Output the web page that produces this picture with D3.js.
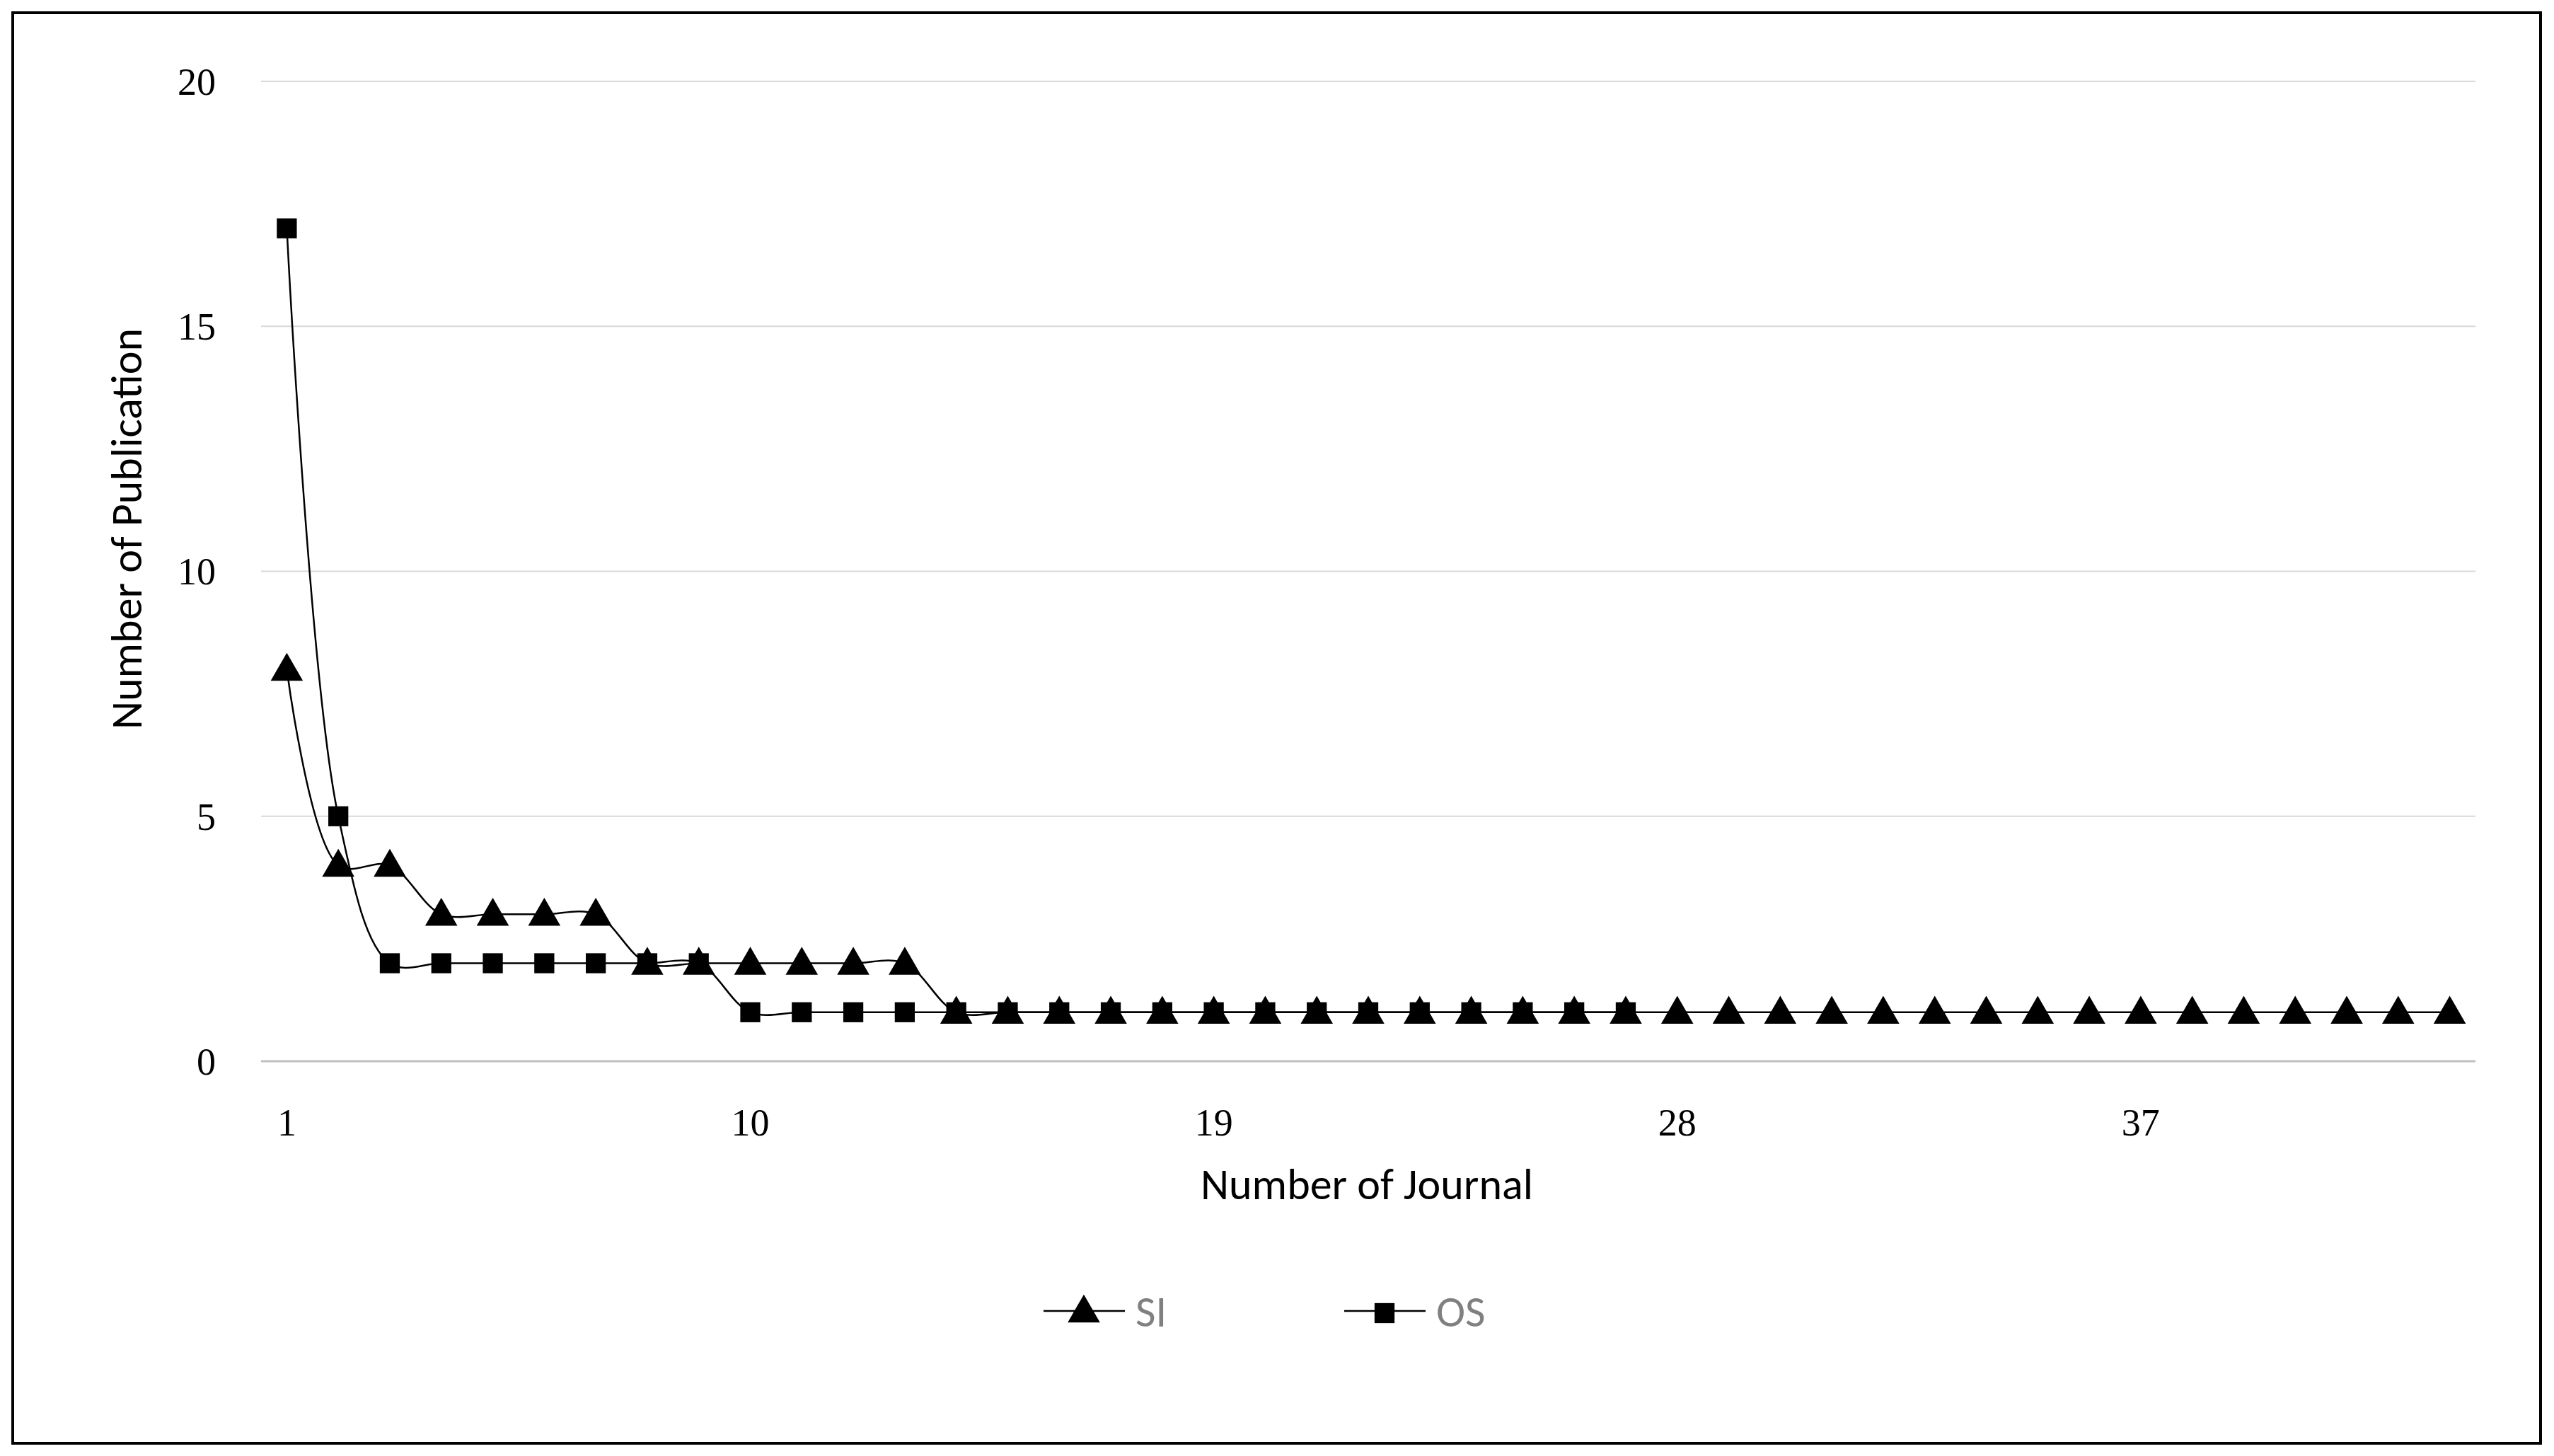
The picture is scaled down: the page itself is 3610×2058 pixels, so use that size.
<!DOCTYPE html>
<html><head><meta charset="utf-8">
<script src="https://cdn.jsdelivr.net/npm/d3@7"></script>
<style>body{margin:0;background:#fff}</style>
</head><body><div id="chart"></div>
<script>
// values
const siValues = [8,4,4,3,3,3,3,2,2,2,2,2,2,1,1,1,1,1,1,1,1,1,1,1,1,1,1,1,1,1,1,1,1,1,1,1,1,1,1,1,1,1,1];
const osValues = [17,5,2,2,2,2,2,2,2,1,1,1,1,1,1,1,1,1,1,1,1,1,1,1,1,1,1];
const journals = d3.range(1, 44);
const xTickLabels = [1, 10, 19, 28, 37];
const yTicks = [0, 5, 10, 15, 20];

const W = 3610, H = 2058;
const svg = d3.select("#chart").append("svg").attr("width", W).attr("height", H);

svg.append("rect").attr("x", 18).attr("y", 18).attr("width", 3573).attr("height", 2022)
   .attr("fill", "#fff").attr("stroke", "#000").attr("stroke-width", 4);

const plotL = 369, plotR = 3499, plotT = 115, plotB = 1500;
const x = d3.scalePoint().domain(journals).range([plotL, plotR]).padding(0.5);
const y = d3.scaleLinear().domain([0, 20]).range([plotB, plotT]);

// gridlines
svg.append("g").selectAll("line").data(yTicks.filter(d => d > 0)).join("line")
   .attr("x1", plotL).attr("x2", plotR).attr("y1", d => y(d)).attr("y2", d => y(d))
   .attr("stroke", "#d9d9d9").attr("stroke-width", 2);
svg.append("line").attr("x1", plotL).attr("x2", plotR).attr("y1", y(0)).attr("y2", y(0))
   .attr("stroke", "#bfbfbf").attr("stroke-width", 3);

// tick labels
svg.append("g").selectAll("text").data(yTicks).join("text")
   .attr("x", 305).attr("y", d => y(d)).attr("dy", "0.35em").attr("text-anchor", "end")
   .attr("font-family", "Liberation Serif").attr("font-size", 54).text(d => d);
svg.append("g").selectAll("text").data(xTickLabels).join("text")
   .attr("x", d => x(d)).attr("y", 1605).attr("text-anchor", "middle")
   .attr("font-family", "Liberation Serif").attr("font-size", 54).text(d => d);

// axis titles
svg.append("text").attr("x", (plotL + plotR) / 2 - 2).attr("y", 1695).attr("text-anchor", "middle")
   .attr("font-family", "Carlito, Liberation Sans, sans-serif").attr("font-size", 62).text("Number of Journal");
svg.append("text").attr("transform", `translate(200,${(plotT + plotB) / 2 - 60}) rotate(-90)`)
   .attr("text-anchor", "middle")
   .attr("font-family", "Carlito, Liberation Sans, sans-serif").attr("font-size", 62).text("Number of Publication");

const line = d3.line().x((d, i) => x(i + 1)).y(d => y(d)).curve(d3.curveCatmullRom.alpha(0.5));
const tri = d3.symbol().type(d3.symbolTriangle).size(900);
const sq = d3.symbol().type(d3.symbolSquare).size(800);

function series(vals, sym) {
  svg.append("path").datum(vals).attr("d", line).attr("fill", "none").attr("stroke", "#000").attr("stroke-width", 2.5);
  svg.append("g").selectAll("path").data(vals).join("path")
     .attr("d", sym).attr("transform", (d, i) => `translate(${x(i + 1)},${y(d) + (sym === tri ? 3 : 0)})`)
     .attr("fill", "#000");
}
series(siValues, tri);
series(osValues, sq);

// legend
const ly = 1853;
function legendItem(x0, sym, label) {
  svg.append("line").attr("x1", x0).attr("x2", x0 + 115).attr("y1", ly).attr("y2", ly).attr("stroke", "#000").attr("stroke-width", 2.5);
  svg.append("path").attr("d", sym).attr("transform", `translate(${x0 + 57},${ly + 3})`).attr("fill", "#000");
  svg.append("text").attr("x", x0 + 130).attr("y", ly).attr("dy", "0.35em")
     .attr("font-family", "Carlito, Liberation Sans, sans-serif").attr("font-size", 62).attr("fill", "#808080").text(label);
}
legendItem(1475, tri, "SI");
legendItem(1900, sq, "OS");
</script></body></html>
